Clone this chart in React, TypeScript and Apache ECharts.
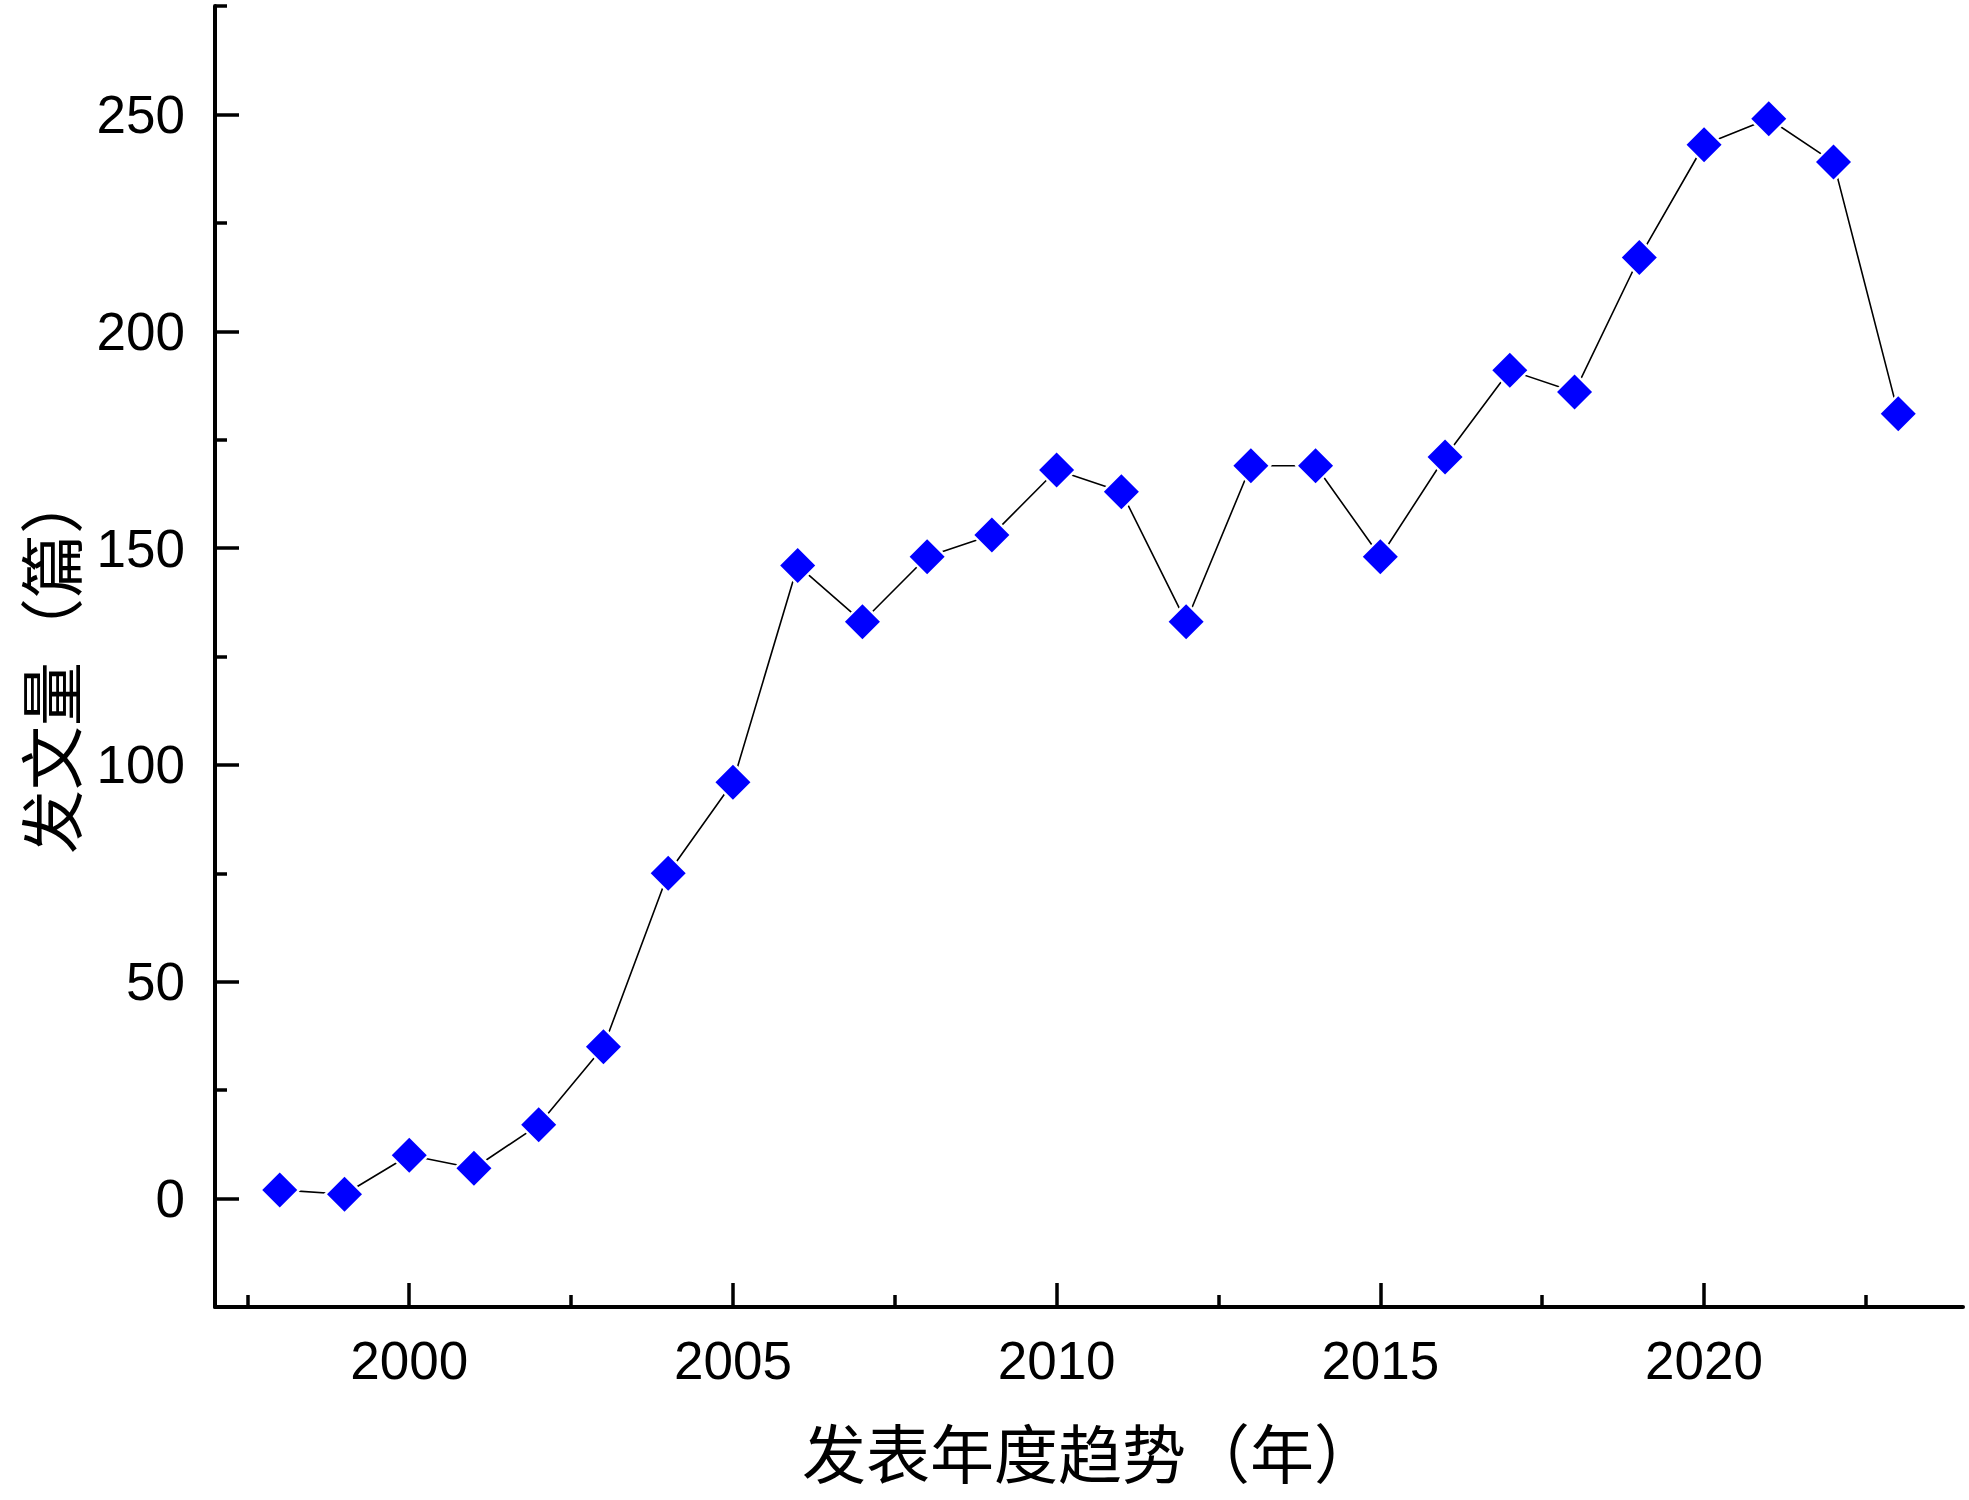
import React, { useEffect, useRef } from "react";
import * as echarts from "echarts";

const years = [1998, 1999, 2000, 2001, 2002, 2003, 2004, 2005, 2006, 2007, 2008, 2009, 2010, 2011, 2012, 2013, 2014, 2015, 2016, 2017, 2018, 2019, 2020, 2021, 2022, 2023];
const counts = [2, 1, 10, 7, 17, 35, 75, 96, 146, 133, 148, 153, 168, 163, 133, 169, 169, 148, 171, 191, 186, 217, 243, 249, 239, 181];
const xMajorTicks = [2000, 2005, 2010, 2015, 2020];
const xMinorTicks = [1997.5, 2002.5, 2007.5, 2012.5, 2017.5, 2022.5];
const yMajorTicks = [0, 50, 100, 150, 200, 250];
const yMinorTicks = [-25, 25, 75, 125, 175, 225, 275];
const xTitle = "发表年度趋势（年）";
const yTitle = "发文量（篇）";

export default function App() {
  const ref = useRef<HTMLDivElement>(null);
  useEffect(() => {
    document.body.style.margin = "0";
    const chart = echarts.init(ref.current!, null, { renderer: "svg" });
    const data = years.map((y, i) => [y, counts[i]]);
    const axisLine = { show: true, onZero: false, lineStyle: { color: "#000", width: 4 } };
    const tickStyle = { color: "#000", width: 3.5 };
    const labelFont = { fontFamily: "Liberation Sans, Arial, sans-serif", fontSize: 53, color: "#000" };
    const titleFont = "Noto Sans CJK SC";
    chart.setOption({
      animation: false,
      backgroundColor: "#fff",
      grid: { left: 215, top: 6, right: 6, bottom: 193, containLabel: false },
      xAxis: [
        {
          type: "value",
          min: 1997,
          max: 2024,
          axisLine,
          splitLine: { show: false },
          axisTick: { show: true, inside: true, length: 24, customValues: xMajorTicks, lineStyle: tickStyle },
          axisLabel: { ...labelFont, margin: 27, customValues: xMajorTicks, formatter: (v: number) => String(v) },
        },
        {
          type: "value",
          position: "bottom",
          min: 1997,
          max: 2024,
          axisLine: { show: false, onZero: false },
          splitLine: { show: false },
          axisTick: { show: true, inside: true, length: 12, customValues: xMinorTicks, lineStyle: tickStyle },
          axisLabel: { show: false },
        },
      ],
      yAxis: [
        {
          type: "value",
          min: -25,
          max: 275,
          axisLine,
          splitLine: { show: false },
          axisTick: { show: true, inside: true, length: 24, customValues: yMajorTicks, lineStyle: tickStyle },
          axisLabel: { ...labelFont, margin: 30, customValues: yMajorTicks },
        },
        {
          type: "value",
          position: "left",
          min: -25,
          max: 275,
          axisLine: { show: false, onZero: false },
          splitLine: { show: false },
          axisTick: { show: true, inside: true, length: 12, customValues: yMinorTicks, lineStyle: tickStyle },
          axisLabel: { show: false },
        },
      ],
      series: [
        {
          type: "line",
          data,
          showSymbol: false,
          symbol: "none",
          lineStyle: { color: "#000", width: 1.6 },
          z: 1,
        },
        {
          type: "scatter",
          data,
          symbol: "diamond",
          symbolSize: 42,
          itemStyle: { color: "#fff", opacity: 1 },
          z: 2,
        },
        {
          type: "scatter",
          data,
          symbol: "diamond",
          symbolSize: 35,
          itemStyle: { color: "#0000ff", opacity: 1 },
          z: 3,
        },
      ],
      graphic: [
        {
          type: "text",
          x: 1090,
          y: 1450,
          style: {
            text: xTitle,
            fontFamily: titleFont,
            fontSize: 64,
            fill: "#000",
            align: "center",
            verticalAlign: "middle",
          },
        },
        {
          type: "text",
          x: 48,
          y: 662,
          rotation: Math.PI / 2,
          style: {
            text: yTitle,
            fontFamily: titleFont,
            fontSize: 64,
            fill: "#000",
            align: "center",
            verticalAlign: "middle",
          },
        },
      ],
    });
    return () => chart.dispose();
  }, []);
  return <div ref={ref} style={{ position: "absolute", left: 0, top: 0, width: 1969, height: 1500 }} />;
}
